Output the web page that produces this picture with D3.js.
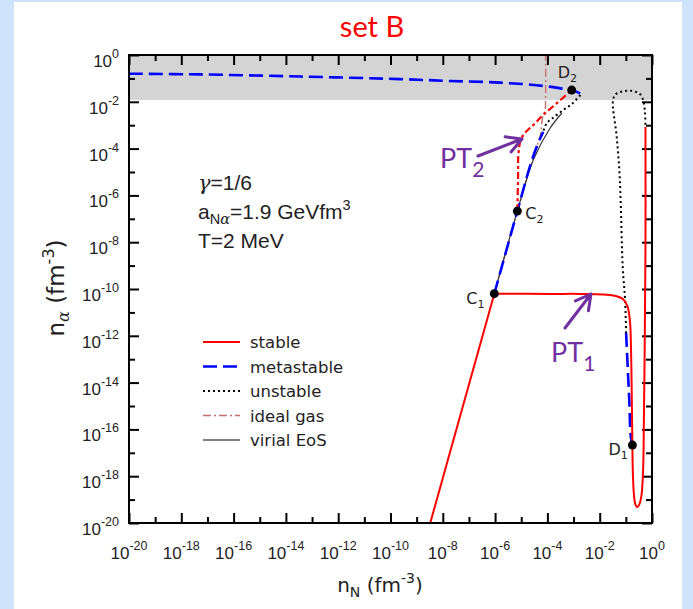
<!DOCTYPE html>
<html>
<head>
<meta charset="utf-8">
<script src="https://cdn.jsdelivr.net/npm/d3@7"></script>
<style>
  body { margin: 0; background: #cfe4fa; }
  svg { display: block; }
  text { font-family: "Liberation Sans", Arial, sans-serif; }
</style>
</head>
<body>
<svg width="693" height="609"></svg>
<script>
// log10 values: [log10 nN, log10 n_alpha]
var stableLow = [[-8.48, -20], [-6.03, -10.2]];
var stablePT1 = [[-6.03, -10.2], [-3.9, -10.21], [-2.75, -10.21], [-1.8, -10.24], [-1.38, -10.3],
  [-1.11, -10.43], [-0.94, -10.73], [-0.84, -11.41], [-0.81, -12.18], [-0.78, -14.03], [-0.75, -16.67],
  [-0.73, -17.95], [-0.69, -18.8], [-0.64, -19.19], [-0.56, -19.32], [-0.48, -19.19], [-0.4, -18.8],
  [-0.34, -17.74], [-0.31, -15.6], [-0.28, -12.61], [-0.25, -8.33], [-0.25, -3.08]];
var stablePT2 = [[-5.15, -6.67], [-5.12, -5.13], [-5.11, -4.27], [-5.02, -3.63], [-4.86, -3.33],
  [-4.54, -2.99], [-4.16, -2.56], [-3.64, -2.06], [-3.07, -1.5]];
var metaTop = [[-20, -0.8], [-17.28, -0.83], [-13.46, -0.92], [-9.64, -1.03], [-7.72, -1.11],
  [-5.81, -1.18], [-4.17, -1.32], [-3.25, -1.47], [-3.07, -1.5], [-2.75, -1.64]];
var metaLow = [[-6.03, -10.2], [-5.15, -6.67], [-4.67, -4.77], [-4.41, -3.92], [-4.16, -3.28]];
var metaRight = [[-0.99, -11.88], [-0.93, -13.33], [-0.87, -14.74], [-0.81, -16.32], [-0.75, -16.67]];
var unstableLeft = [[-2.74, -1.71], [-3.06, -2.09], [-3.39, -2.35], [-3.79, -2.69], [-4.03, -2.92], [-4.16, -3.28]];
var unstableRight = [[-0.99, -11.88], [-1.03, -10.47], [-1.12, -9.05], [-1.2, -6.2], [-1.25, -4.91],
  [-1.35, -3.49], [-1.49, -1.92], [-1.38, -1.67], [-1.22, -1.58], [-0.97, -1.53], [-0.73, -1.54],
  [-0.46, -1.67], [-0.34, -1.92], [-0.27, -2.44], [-0.25, -3.08]];
var idealGas = [[-6.03, -10.2], [-5.15, -6.67], [-4.41, -3.92], [-4.28, -3.49], [-4.18, -2.64],
  [-4.09, -2.35], [-4.07, -1.92], [-4.07, 0]];
var virial = [[-6.03, -10.2], [-5.15, -6.67], [-4.54, -4.49], [-3.9, -3.13], [-3.45, -2.49]];
var points = [
  {name: "C", sub: "1", p: [-6.03, -10.2]},
  {name: "C", sub: "2", p: [-5.15, -6.67]},
  {name: "D", sub: "1", p: [-0.75, -16.67]},
  {name: "D", sub: "2", p: [-3.07, -1.5]}
];
var grayBand = [-1.92, 0];
var majorExp = d3.range(-20, 1, 2);
var minorExp = d3.range(-19, 0, 2);
var legendNames = ["stable", "metastable", "unstable", "ideal gas", "virial EoS"];

var svg = d3.select("svg");
var margin = {top: 55, right: 41, bottom: 86, left: 129};
var width = 693 - margin.left - margin.right;
var height = 609 - margin.top - margin.bottom;

var x = d3.scaleLog().domain([1e-20, 1]).range([0, width]);
var y = d3.scaleLog().domain([1e-20, 1]).range([height, 0]);
function p10(e) { return Math.pow(10, e); }

// white page with light blue border
svg.append("rect").attr("x", 14).attr("y", 2).attr("width", 668).attr("height", 607).attr("fill", "#fff");

svg.append("text").attr("x", 372).attr("y", 37).attr("text-anchor", "middle")
  .style("font-family", "Lato, 'Open Sans', sans-serif").style("font-size", "29px")
  .attr("fill", "#ff0000").text("set B");

var g = svg.append("g").attr("transform", "translate(" + margin.left + "," + margin.top + ")");

g.append("rect")
  .attr("x", 0).attr("width", width)
  .attr("y", y(p10(grayBand[1]))).attr("height", y(p10(grayBand[0])) - y(p10(grayBand[1])))
  .attr("fill", "#d4d4d4");

// ticks on all four sides, pointing inward
function tickAxis(axisFn, scale, vals, size) {
  return axisFn(scale).tickValues(vals.map(p10)).tickSizeInner(size).tickSizeOuter(0).tickFormat("");
}
[[majorExp, 10], [minorExp, 6]].forEach(function(t) {
  g.append("g").attr("transform", "translate(0," + height + ")").call(tickAxis(d3.axisBottom, x, t[0], -t[1]));
  g.append("g").call(tickAxis(d3.axisTop, x, t[0], -t[1]));
  g.append("g").call(tickAxis(d3.axisLeft, y, t[0], -t[1]));
  g.append("g").attr("transform", "translate(" + width + ",0)").call(tickAxis(d3.axisRight, y, t[0], -t[1]));
});
g.selectAll(".domain").remove();
g.selectAll(".tick line").attr("stroke", "#000").attr("stroke-width", 2);

// tick labels 10^n
majorExp.forEach(function(e) {
  var tx = g.append("text").attr("x", x(p10(e))).attr("y", height + 36)
    .attr("text-anchor", "middle").style("font-size", "17px").attr("fill", "#222");
  tx.append("tspan").text("10");
  tx.append("tspan").attr("dy", -9).style("font-size", "12.5px").text(e);
  var ty = g.append("text").attr("x", -10).attr("y", y(p10(e)) + 12)
    .attr("text-anchor", "end").style("font-size", "17px").attr("fill", "#222");
  ty.append("tspan").text("10");
  ty.append("tspan").attr("dy", -9).style("font-size", "12.5px").text(e);
});

var line = d3.line().x(function(d) { return x(p10(d[0])); }).y(function(d) { return y(p10(d[1])); })
  .curve(d3.curveCatmullRom.alpha(0.5));

var styles = {
  stable: {stroke: "#ff0000", w: 2, dash: null},
  pt2: {stroke: "#ff0000", w: 2.2, dash: "7,3,3,3"},
  meta: {stroke: "#0000ff", w: 2.6, dash: "14,6"},
  unstable: {stroke: "#000", w: 2, dash: "2,3"},
  ideal: {stroke: "#c07070", w: 1.4, dash: "8,3,2,3"},
  virial: {stroke: "#333", w: 1.2, dash: null}
};
function draw(data, s) {
  g.append("path").datum(data).attr("d", line).attr("fill", "none")
    .attr("stroke", s.stroke).attr("stroke-width", s.w).attr("stroke-dasharray", s.dash);
}
draw(idealGas, styles.ideal);
draw(virial, styles.virial);
draw(unstableLeft, styles.unstable);
draw(unstableRight, styles.unstable);
draw(metaTop, styles.meta);
draw(metaLow, styles.meta);
draw(metaRight, styles.meta);
draw(stableLow, styles.stable);
draw(stablePT1, styles.stable);
draw(stablePT2, styles.pt2);

// frame
g.append("rect").attr("width", width).attr("height", height)
  .attr("fill", "none").attr("stroke", "#000").attr("stroke-width", 2);

// special points
var labelOff = {C1: [-28, 10], C2: [8, 8], D1: [-24, 10], D2: [-14, -12]};
points.forEach(function(pt) {
  var cx = x(p10(pt.p[0])), cy = y(p10(pt.p[1]));
  g.append("circle").attr("cx", cx).attr("cy", cy).attr("r", 4.5).attr("fill", "#000");
  var o = labelOff[pt.name + pt.sub];
  var t = g.append("text").attr("x", cx + o[0]).attr("y", cy + o[1])
    .style("font-family", "'DejaVu Sans', sans-serif").style("font-size", "16px").attr("fill", "#222");
  t.append("tspan").text(pt.name);
  t.append("tspan").attr("dy", 4).style("font-size", "11px").text(pt.sub);
});

// parameter box
var info = svg.append("g").style("font-family", "'DejaVu Sans', sans-serif").style("font-size", "21px").attr("fill", "#222");
var t1 = info.append("text").attr("x", 198).attr("y", 190);
t1.append("tspan").style("font-family", "'DejaVu Serif', serif").style("font-style", "italic").text("γ");
t1.append("tspan").text("=1/6");
var t2 = info.append("text").attr("x", 198).attr("y", 219);
t2.append("tspan").text("a");
t2.append("tspan").attr("dy", 5).style("font-size", "14.5px").text("N");
t2.append("tspan").style("font-size", "14.5px").style("font-family", "'DejaVu Serif', serif").style("font-style", "italic").text("α");
t2.append("tspan").attr("dy", -5).text("=1.9 GeVfm");
t2.append("tspan").attr("dy", -9).style("font-size", "14.5px").text("3");
info.append("text").attr("x", 198).attr("y", 248).text("T=2 MeV");

// legend
var legend = svg.append("g").attr("transform", "translate(203,342)");
var legendStyles = [styles.stable, styles.meta, styles.unstable, styles.ideal, {stroke: "#555", w: 1.6, dash: null}];
legendNames.forEach(function(n, i) {
  var s = legendStyles[i];
  legend.append("line").attr("x1", 0).attr("x2", 37).attr("y1", i * 24.5).attr("y2", i * 24.5)
    .attr("stroke", s.stroke).attr("stroke-width", s.w).attr("stroke-dasharray", s.dash);
  legend.append("text").attr("x", 47).attr("y", i * 24.5 + 6)
    .style("font-family", "'DejaVu Sans', sans-serif").style("font-size", "16.5px").attr("fill", "#222").text(n);
});

// axis titles
var xt = svg.append("text").attr("x", 380).attr("y", 592).attr("text-anchor", "middle")
  .style("font-family", "'DejaVu Sans', sans-serif").style("font-size", "20px").attr("fill", "#222");
xt.append("tspan").text("n");
xt.append("tspan").attr("dy", 5).style("font-size", "14px").text("N");
xt.append("tspan").attr("dy", -5).text(" (fm");
xt.append("tspan").attr("dy", -9).style("font-size", "14px").text("-3");
xt.append("tspan").attr("dy", 9).text(")");
var yt = svg.append("text").attr("transform", "translate(64,288) rotate(-90)").attr("text-anchor", "middle")
  .style("font-family", "'DejaVu Sans', sans-serif").style("font-size", "23px").attr("fill", "#222");
yt.append("tspan").text("n");
yt.append("tspan").attr("dy", 5).style("font-size", "16px").style("font-family", "'DejaVu Serif', serif").style("font-style", "italic").text("α");
yt.append("tspan").attr("dy", -5).text(" (fm");
yt.append("tspan").attr("dy", -10).style("font-size", "16px").text("-3");
yt.append("tspan").attr("dy", 10).text(")");

// PT annotations
var purple = "#7030a0";
function arrow(x1, y1, x2, y2) {
  var a = Math.atan2(y2 - y1, x2 - x1), L = 17, sp = 0.5;
  var path = "M" + x1 + "," + y1 + "L" + x2 + "," + y2 +
    "M" + (x2 - L * Math.cos(a - sp)) + "," + (y2 - L * Math.sin(a - sp)) + "L" + x2 + "," + y2 +
    "L" + (x2 - L * Math.cos(a + sp)) + "," + (y2 - L * Math.sin(a + sp));
  svg.append("path").attr("d", path).attr("fill", "none").attr("stroke", purple)
    .attr("stroke-width", 3).attr("stroke-linecap", "round").attr("stroke-linejoin", "round");
}
arrow(478, 156, 522, 139);
arrow(565, 328, 591, 294);
function ptLabel(px, py, sub) {
  var t = svg.append("text").attr("x", px).attr("y", py).style("font-family", "Lato, 'Open Sans', sans-serif")
    .style("font-size", "27px").attr("fill", purple);
  t.append("tspan").text("PT");
  t.append("tspan").attr("dy", 9).style("font-size", "21px").text(sub);
}
ptLabel(440, 168, "2");
ptLabel(551, 362, "1");
</script>
</body>
</html>
